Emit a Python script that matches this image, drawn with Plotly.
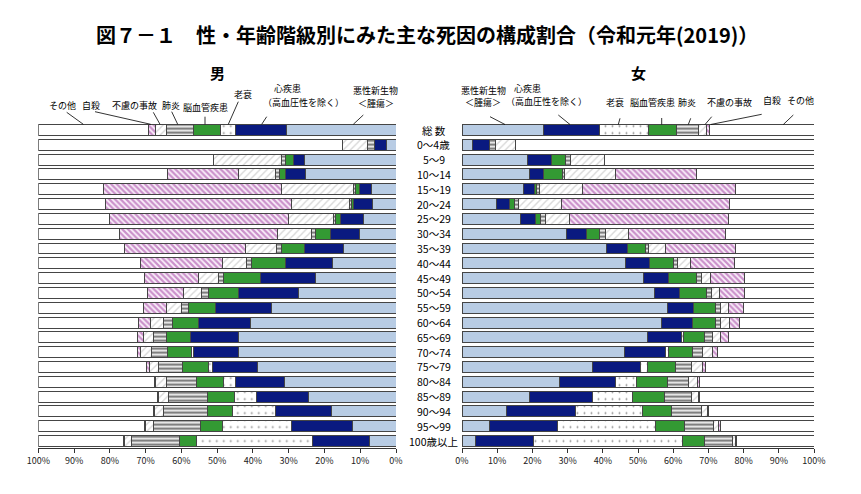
import plotly.graph_objects as go

W, H = 861, 494

categories = ["総 数", "0～4歳", "5～9", "10～14", "15～19", "20～24", "25～29", "30～34",
              "35～39", "40～44", "45～49", "50～54", "55～59", "60～64", "65～69", "70～74",
              "75～79", "80～84", "85～89", "90～94", "95～99", "100歳以上"]

causes = ["悪性新生物", "心疾患", "老衰", "脳血管疾患", "肺炎", "不慮の事故", "自殺", "その他"]

# 男 (%)
m_cancer = [30.7, 2.6, 25.7, 25.2, 6.8, 6.6, 9.1, 10.3, 14.7, 17.7, 22.6, 27.3, 34.8, 40.6, 44.1, 43.9, 38.7, 31.3, 24.4, 18.0, 12.1, 7.3]
m_heart = [14.3, 3.5, 3.0, 5.6, 3.3, 5.3, 6.4, 8.0, 11.0, 13.2, 15.4, 16.6, 15.6, 14.7, 13.3, 12.7, 12.6, 13.7, 14.7, 15.8, 17.1, 16.1]
m_senility = [4.2, 0, 0, 0, 0, 0, 0, 0, 0, 0, 0, 0, 0, 0, 0, 0.5, 1.1, 3.1, 6.1, 11.9, 19.2, 32.3]
m_stroke = [7.5, 0, 2.1, 1.8, 1.1, 0.5, 1.3, 4.3, 6.3, 9.4, 10.1, 8.6, 7.6, 7.1, 6.9, 6.8, 7.3, 7.8, 7.4, 6.9, 6.2, 4.9]
m_pneumonia = [7.6, 1.9, 1.3, 1.2, 0.7, 0.5, 0.7, 0.9, 1.4, 1.4, 1.4, 1.8, 1.9, 2.6, 3.4, 4.4, 6.6, 8.4, 10.9, 12.4, 13.2, 13.3]
m_accident = [2.8, 7.0, 18.9, 10.2, 20.2, 16.2, 12.6, 9.6, 8.8, 6.7, 5.8, 5.0, 4.2, 3.6, 2.9, 3.1, 2.7, 2.8, 2.9, 2.4, 2.2, 2.0]
m_suicide = [2.1, 0, 0, 19.8, 49.7, 52.2, 49.9, 44.1, 33.8, 23.0, 14.9, 10.2, 6.5, 3.4, 1.7, 0.9, 0.7, 0.5, 0.4, 0.4, 0.3, 0.3]

# 女 (%)
f_cancer = [23.1, 3.0, 18.7, 19.3, 17.4, 9.7, 16.7, 29.7, 41.1, 46.5, 51.5, 54.6, 58.3, 56.8, 52.6, 46.1, 37.0, 27.6, 19.1, 12.7, 7.8, 3.7]
f_heart = [16.1, 4.8, 6.8, 3.8, 3.1, 3.7, 4.2, 5.7, 6.0, 6.7, 7.3, 7.3, 7.4, 8.7, 9.8, 11.6, 13.6, 16.1, 17.9, 19.6, 19.3, 16.6]
f_senility = [13.7, 0, 0, 0, 0, 0, 0, 0, 0, 0, 0, 0, 0, 0, 0.4, 0.9, 2.0, 5.9, 11.5, 18.9, 28.0, 42.4]
f_stroke = [8.1, 0, 3.8, 5.4, 0.7, 1.5, 1.5, 3.8, 4.9, 6.8, 7.9, 7.6, 6.4, 6.4, 6.0, 6.9, 8.0, 8.8, 9.0, 8.4, 8.0, 6.1]
f_pneumonia = [6.1, 1.6, 1.4, 0.5, 0.8, 1.1, 1.4, 1.7, 1.0, 1.2, 1.2, 1.4, 1.4, 1.6, 2.3, 2.8, 4.5, 5.9, 7.6, 8.3, 8.3, 8.1]
f_accident = [2.4, 5.9, 9.9, 14.5, 12.3, 12.3, 6.7, 6.4, 4.9, 3.6, 2.7, 2.2, 2.2, 2.4, 2.4, 2.8, 3.2, 2.6, 2.0, 1.9, 1.6, 0.9]
f_suicide = [0.8, 0, 0, 23.0, 43.5, 47.8, 45.2, 27.6, 19.9, 12.6, 9.6, 7.1, 4.4, 2.8, 2.2, 1.4, 0.9, 0.7, 0.5, 0.3, 0.3, 0.3]

tick_vals = [0, 10, 20, 30, 40, 50, 60, 70, 80, 90, 100]

def rest(*series):
    return [round(100 - sum(v), 1) for v in zip(*series)]

m_other = rest(m_cancer, m_heart, m_senility, m_stroke, m_pneumonia, m_accident, m_suicide)
f_other = rest(f_cancer, f_heart, f_senility, f_stroke, f_pneumonia, f_accident, f_suicide)

male = [m_cancer, m_heart, m_senility, m_stroke, m_pneumonia, m_accident, m_suicide, m_other]
female = [f_cancer, f_heart, f_senility, f_stroke, f_pneumonia, f_accident, f_suicide, f_other]

styles = [
    dict(color="#B8CCE4"),
    dict(color="#0A1A80"),
    dict(color="white", pattern=dict(shape=".", fgcolor="#222222", size=7, solidity=0.06)),
    dict(color="#339933"),
    dict(color="white", pattern=dict(shape="-", fgcolor="black", size=4, solidity=0.6)),
    dict(color="white", pattern=dict(shape="/", fgcolor="#B0B0B0", size=5, solidity=0.28)),
    dict(color="#FBF2FB", pattern=dict(shape="\\", fgcolor="#9A309A", size=4, solidity=0.55)),
    dict(color="white"),
]

FONT = "Noto Sans CJK JP"
fig = go.Figure()
for xa, data in (("x", male), ("x2", female)):
    for name, vals, st in zip(causes, data, styles):
        marker = dict(st)
        marker["line"] = dict(color="#454545", width=1)
        fig.add_trace(go.Bar(y=categories, x=vals, orientation="h", name=name,
                             xaxis=xa, yaxis="y", marker=marker, showlegend=False))

def px(x):
    return x / W

def py(y):
    return 1 - y / H

axis_common = dict(tickvals=tick_vals, ticktext=[f"{v}%" for v in tick_vals],
                   showline=True, linecolor="#333333", linewidth=1, ticks="outside",
                   ticklen=4, tickcolor="#333333", showgrid=False, zeroline=False,
                   automargin=False,
                   tickfont=dict(family=FONT, size=9, color="#222222"), fixedrange=True)

fig.update_layout(
    width=W, height=H, barmode="stack", bargap=0.26,
    margin=dict(l=0, r=0, t=0, b=0, pad=0, autoexpand=False),
    paper_bgcolor="white", plot_bgcolor="white",
    font=dict(family=FONT, color="#222222"),
    xaxis=dict(domain=[px(38.3), px(396)], range=[100, 0], anchor="y", **axis_common),
    xaxis2=dict(domain=[px(462), px(814)], range=[0, 100], anchor="y", **axis_common),
    yaxis=dict(domain=[py(448.4), py(122.6)], range=[21.5, -0.5], categoryorder="array",
               categoryarray=categories, showticklabels=False, showline=False,
               automargin=False, showgrid=False, zeroline=False, ticks="", fixedrange=True),
)

ann = []
ann.append(dict(text="<b>図７－１　性・年齢階級別にみた主な死因の構成割合（令和元年(2019)）</b>",
                x=px(427), y=py(35), font=dict(size=20, color="black")))
ann.append(dict(text="<b>男</b>", x=px(218), y=py(72), font=dict(size=15, color="black")))
ann.append(dict(text="<b>女</b>", x=px(638), y=py(72), font=dict(size=15, color="black")))

labels = [
    ("その他", 62.5, 105, "center"), ("自殺", 91, 105, "center"), ("不慮の事故", 134.5, 105, "center"),
    ("肺炎", 171, 105, "center"), ("脳血管疾患", 205.5, 107, "center"), ("老衰", 243, 95, "center"),
    ("心疾患", 272, 89, "left"), ("（高血圧性を除く）", 303, 102, "center"),
    ("悪性新生物", 375.5, 90, "center"), ("＜腫瘍＞", 375.5, 103, "center"),
    ("悪性新生物", 483, 90, "center"), ("＜腫瘍＞", 483, 102, "center"),
    ("心疾患", 512, 88, "left"), ("（高血圧性を除く）", 546, 101, "center"),
    ("老衰", 615, 102, "center"), ("脳血管疾患", 652.5, 102, "center"), ("肺炎", 687, 102, "center"),
    ("不慮の事故", 729.5, 102, "center"), ("自殺", 772, 100, "center"), ("その他", 800, 100, "center"),
]
for t, x, y, xa in labels:
    ann.append(dict(text=t, x=px(x), y=py(y), xanchor=xa, font=dict(size=9, color="black")))

for c in categories:
    ann.append(dict(text=c, x=px(434), y=c, yref="y", xref="paper", showarrow=False,
                    font=dict(size=10.5, color="black")))

for a in ann:
    a.setdefault("xref", "paper")
    a.setdefault("yref", "paper")
    a.setdefault("showarrow", False)
    a.setdefault("yanchor", "middle")
    a.setdefault("xanchor", "center")
fig.update_layout(annotations=ann)

leaders = [
    ((66.7, 112.3), (83.3, 124.3)), ((95, 111.7), (150.7, 124.3)), ((153.3, 112.3), (160, 124.3)),
    ((171.7, 111.7), (177.7, 124.3)), ((205, 116.7), (205, 124.3)), ((238.3, 101.7), (228.3, 124.3)),
    ((266.7, 116.7), (261.7, 124.3)), ((363.3, 115), (353.3, 124.3)),
    ((490, 116.7), (505, 124.5)), ((558.3, 115), (570, 124.5)), ((620, 118.3), (618.3, 124.5)),
    ((661.7, 118), (661.7, 124.5)), ((690.7, 118.3), (688.3, 124.5)), ((711.7, 116.7), (705, 124.5)),
    ((761.7, 114.3), (710.7, 124.5)), ((793.3, 115), (783.3, 124.5)),
]
fig.update_layout(shapes=[dict(type="line", xref="paper", yref="paper",
                               x0=px(a[0]), y0=py(a[1]), x1=px(b[0]), y1=py(b[1]),
                               line=dict(color="black", width=0.8)) for a, b in leaders])

fig.write_html("out.html", config={"displayModeBar": False},
               post_script="document.body.style.margin='0';")
